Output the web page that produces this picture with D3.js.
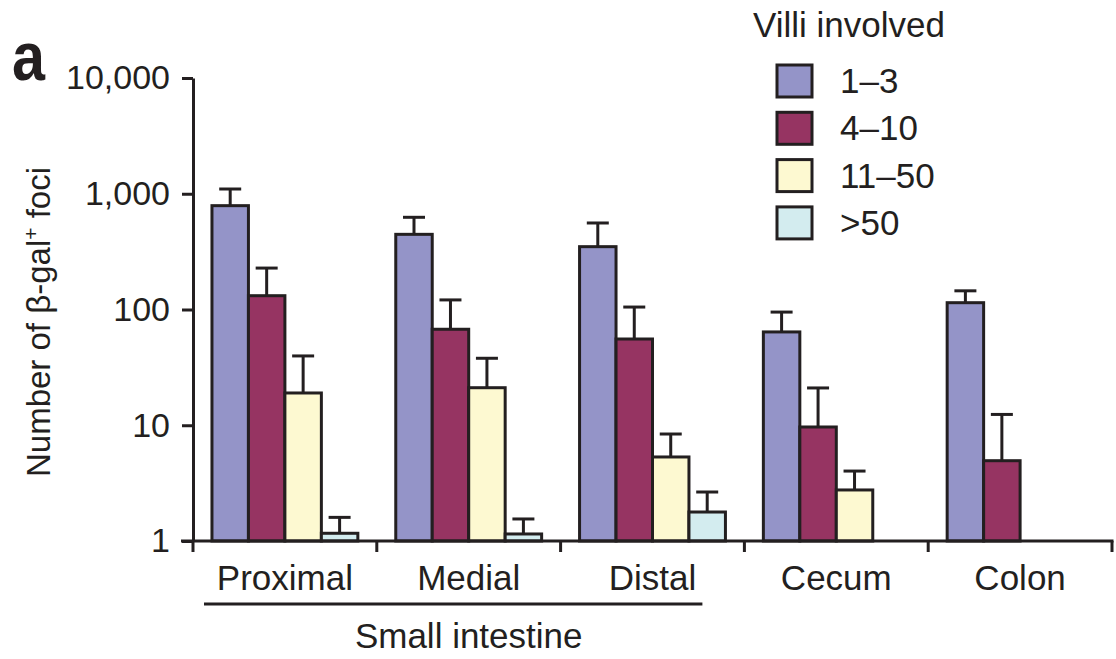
<!DOCTYPE html>
<html>
<head>
  <title>Villi involved</title>
  <script src="https://d3js.org/d3.v7.min.js"></script>
  <style>
    body { margin: 0; background: #fff; }
    text { font-family: 'Liberation Sans', Arial, sans-serif; fill: #231f20; }
  </style>
</head>
<body>
  <div id="chart"></div>
  <script>
    // Data
    const categories = ["Proximal", "Medial", "Distal", "Cecum", "Colon"];
    const series = ["1\u20133", "4\u201310", "11\u201350", ">50"];
    const colors = ["#9494c8", "#963462", "#fdf9d1", "#d3ecef"];
    // mean values per series (one entry per category), null = no bar
    const means = [
      [789, 446, 349, 64, 114.5],
      [131.6, 67.5, 55.6, 9.66, 4.94],
      [19.0, 21.1, 5.32, 2.76, null],
      [1.166, 1.15, 1.78, null, null]
    ];
    // upper end of the error bars
    const upper = [
      [1099, 626, 559, 95, 145],
      [228, 121, 105, 21, 12.4],
      [39.7, 37.9, 8.4, 4.02, null],
      [1.6, 1.55, 2.65, null, null]
    ];
    const yTicks = [1, 10, 100, 1000, 10000];

    const width = 1116, height = 659;
    const ink = "#231f20";

    const svg = d3.select("#chart").append("svg")
      .attr("width", width)
      .attr("height", height);

    const y = d3.scaleLog().domain([1, 10000]).range([541, 78]);
    const x0 = d3.scaleBand().domain(categories).range([193, 1112]).padding(0);
    const x1 = d3.scaleBand().domain(series).range([0, x0.bandwidth()])
      .paddingInner(0).paddingOuter(0.52);

    // flatten to one record per bar
    const bars = [];
    series.forEach(function(s, si) {
      categories.forEach(function(c, ci) {
        if (means[si][ci] != null) {
          bars.push({ cat: c, s: s, si: si, v: means[si][ci], up: upper[si][ci] });
        }
      });
    });

    // error bars (drawn under the bars so the stub hides in the outline)
    const eb = svg.append("g").attr("stroke", ink).attr("stroke-width", 3);
    bars.forEach(function(d) {
      const cx = x0(d.cat) + x1(d.s) + x1.bandwidth() / 2;
      eb.append("line")
        .attr("x1", cx).attr("x2", cx)
        .attr("y1", y(d.v) + 2).attr("y2", y(d.up));
      eb.append("line")
        .attr("x1", cx - 11).attr("x2", cx + 11)
        .attr("y1", y(d.up)).attr("y2", y(d.up));
    });

    svg.append("g").selectAll("rect")
      .data(bars)
      .join("rect")
      .attr("x", d => x0(d.cat) + x1(d.s))
      .attr("y", d => y(d.v))
      .attr("width", x1.bandwidth())
      .attr("height", d => y(1) - y(d.v))
      .attr("fill", d => colors[d.si])
      .attr("stroke", ink)
      .attr("stroke-width", 3);

    // y axis
    const yAxis = svg.append("g")
      .attr("transform", "translate(193,0)")
      .call(d3.axisLeft(y).tickValues(yTicks).tickFormat(d3.format(",")).tickSize(11).tickSizeOuter(0).tickPadding(12));
    yAxis.select(".domain").attr("stroke", ink).attr("stroke-width", 3);
    yAxis.selectAll(".tick line").attr("stroke", ink).attr("stroke-width", 3);
    yAxis.selectAll(".tick text")
      .attr("font-size", 34)
      .attr("font-family", "Liberation Sans")
      .attr("fill", ink);

    // x axis
    const xa = svg.append("g").attr("stroke", ink).attr("stroke-width", 3);
    xa.append("line")
      .attr("x1", 181).attr("x2", x0.range()[1] + 1.5)
      .attr("y1", y(1)).attr("y2", y(1));
    const edges = categories.map(c => x0(c)).concat([x0.range()[1]]);
    edges.forEach(function(ex) {
      xa.append("line")
        .attr("x1", ex).attr("x2", ex)
        .attr("y1", y(1)).attr("y2", y(1) + 11);
    });

    svg.append("g").selectAll("text")
      .data(categories)
      .join("text")
      .attr("x", d => x0(d) + x0.bandwidth() / 2)
      .attr("y", 590)
      .attr("text-anchor", "middle")
      .attr("font-size", 35)
      .text(d => d);

    // small intestine bracket
    svg.append("line")
      .attr("x1", x0("Proximal") + 11)
      .attr("x2", x0("Distal") + x0.bandwidth() - 42)
      .attr("y1", 604).attr("y2", 604)
      .attr("stroke", ink).attr("stroke-width", 3);
    svg.append("text")
      .attr("x", x0("Medial") + x0.bandwidth() / 2)
      .attr("y", 648)
      .attr("text-anchor", "middle")
      .attr("font-size", 35)
      .text("Small intestine");

    // y title
    const yt = svg.append("text")
      .attr("transform", "translate(50,322) rotate(-90)")
      .attr("text-anchor", "middle")
      .attr("font-size", 33);
    yt.append("tspan").text("Number of \u03b2-gal");
    yt.append("tspan").attr("font-size", 21).attr("dy", -12).text("+");
    yt.append("tspan").attr("dy", 12).text(" foci");

    // panel letter
    svg.append("text")
      .attr("x", 12).attr("y", 80)
      .attr("font-weight", "bold")
      .attr("font-size", 68)
      .attr("textLength", 33)
      .attr("lengthAdjust", "spacingAndGlyphs")
      .text("a");

    // legend
    const legend = svg.append("g");
    legend.append("text")
      .attr("x", 753).attr("y", 37)
      .attr("font-size", 35)
      .text("Villi involved");
    const li = legend.selectAll("g.item")
      .data(series)
      .join("g")
      .attr("class", "item")
      .attr("transform", (d, i) => "translate(777," + (65 + i * 47.3) + ")");
    li.append("rect")
      .attr("width", 35).attr("height", 32)
      .attr("fill", (d, i) => colors[i])
      .attr("stroke", ink).attr("stroke-width", 3);
    li.append("text")
      .attr("x", 63).attr("y", 28)
      .attr("font-size", 35)
      .text(d => d);
  </script>
</body>
</html>
